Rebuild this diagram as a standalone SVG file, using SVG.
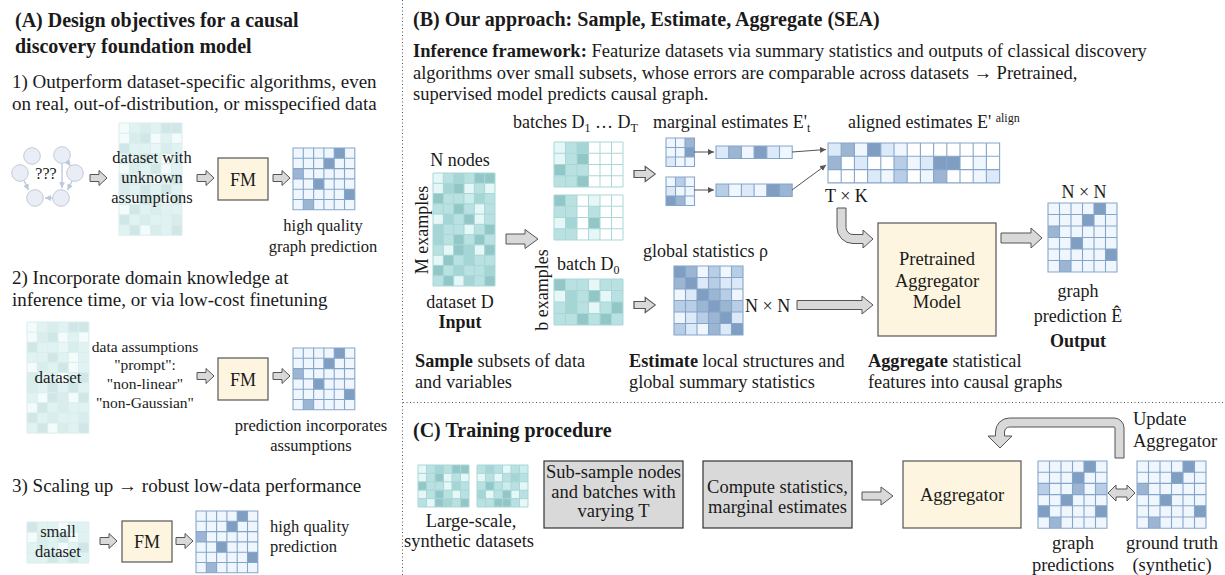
<svg xmlns="http://www.w3.org/2000/svg" xmlns:xlink="http://www.w3.org/1999/xlink" width="1225" height="575" viewBox="0 0 1225 575" font-family="Liberation Serif, DejaVu Serif, serif">
<style>
.t{font-family:Liberation Serif, Tinos, DejaVu Serif, serif;fill:#1a1a1a}
.ttl{font-size:20px;font-weight:bold}
.body{font-size:19px}
.lbl{font-size:16.5px}
.m{font-size:18px}
.cap{font-size:18.3px}
.c18{font-size:18.5px}
.inf{font-size:18.5px}
.mid{text-anchor:middle}
.bd{font-weight:bold}
.t0{fill:#e6f7f7}.t1{fill:#cdecec}.t2{fill:#b9e1e1}.t3{fill:#a5d5d5}.t4{fill:#93c7c7}.tw{fill:#ffffff}
.b0{fill:#ffffff}.b1{fill:#f0f6fd}.b2{fill:#dce9f8}.b3{fill:#b8cde6}.b4{fill:#9bb5d3}.b5{fill:#7f9ec2}
.tg{fill:none;stroke:#a9d7d7;stroke-width:1;vector-effect:non-scaling-stroke}
.bg{fill:none;stroke:#86a6c9;stroke-width:1.1;vector-effect:non-scaling-stroke}
.blk{fill:#d9d9d9;stroke:#555;stroke-width:1}
.box{fill:#fdf5df;stroke:#555;stroke-width:1.2}
.gbox{fill:#d9d9d9;stroke:#333;stroke-width:1.2}
.gc{fill:#e9eef6;stroke:#c3cad6;stroke-width:1}
.ge{stroke:#b9c8dc;stroke-width:1.3;fill:none}
.ln{stroke:#555;stroke-width:1;fill:none}
.div{stroke:#555;stroke-width:1;stroke-dasharray:1 2.5;fill:none}
</style>
<defs>
<rect id="c" width="10" height="10"/>
<path id="sa" class="blk" d="M0,-3.5H9V-7.5L17,0L9,7.5V3.5H0Z"/>
<marker id="ah" viewBox="0 0 8 8" refX="8" refY="4" markerWidth="6" markerHeight="6" orient="auto"><path d="M0,0L8,4L0,8Z" fill="#555"/></marker>
<marker id="ahl" viewBox="0 0 8 8" refX="8" refY="4" markerWidth="4.5" markerHeight="4.5" orient="auto"><path d="M0,0L8,4L0,8Z" fill="#b9c8dc"/></marker>
<g id="dsD">
<rect width="60" height="110" class="t2"/>
<use href="#c" x="0" y="0" class="t0"/><use href="#c" x="20" y="0" class="t3"/><use href="#c" x="40" y="0" class="t4"/><use href="#c" x="50" y="0" class="t4"/>
<use href="#c" x="0" y="10" class="t0"/><use href="#c" x="10" y="10" class="t3"/><use href="#c" x="20" y="10" class="t4"/><use href="#c" x="30" y="10" class="t0"/><use href="#c" x="50" y="10" class="t0"/>
<use href="#c" x="0" y="20" class="t4"/><use href="#c" x="30" y="20" class="t1"/><use href="#c" x="40" y="20" class="t3"/>
<use href="#c" x="20" y="30" class="t4"/><use href="#c" x="40" y="30" class="t0"/>
<use href="#c" x="0" y="40" class="t0"/><use href="#c" x="10" y="40" class="t3"/><use href="#c" x="30" y="40" class="t4"/><use href="#c" x="40" y="40" class="t0"/>
<use href="#c" x="0" y="50" class="t3"/><use href="#c" x="30" y="50" class="t0"/><use href="#c" x="50" y="50" class="t4"/>
<use href="#c" x="0" y="60" class="t3"/><use href="#c" x="20" y="60" class="t4"/><use href="#c" x="40" y="60" class="t4"/>
<use href="#c" x="10" y="70" class="t0"/><use href="#c" x="20" y="70" class="t4"/><use href="#c" x="30" y="70" class="t3"/><use href="#c" x="40" y="70" class="t0"/><use href="#c" x="50" y="70" class="t4"/>
<use href="#c" x="0" y="80" class="t0"/><use href="#c" x="10" y="80" class="t4"/><use href="#c" x="30" y="80" class="t3"/>
<use href="#c" x="0" y="90" class="t4"/><use href="#c" x="20" y="90" class="t3"/><use href="#c" x="50" y="90" class="t3"/>
<use href="#c" x="10" y="100" class="t4"/><use href="#c" x="20" y="100" class="t0"/><use href="#c" x="30" y="100" class="t3"/><use href="#c" x="50" y="100" class="t4"/>
<path class="tg" d="M0 0H60V110H0ZM10 0V110M20 0V110M30 0V110M40 0V110M50 0V110M0 10H60M0 20H60M0 30H60M0 40H60M0 50H60M0 60H60M0 70H60M0 80H60M0 90H60M0 100H60"/>
</g>
<g id="d0">
<rect width="60" height="40" class="t2"/>
<use href="#c" x="0" y="0" class="t4"/><use href="#c" x="30" y="0" class="t0"/>
<use href="#c" x="0" y="10" class="t0"/><use href="#c" x="10" y="10" class="t3"/><use href="#c" x="30" y="10" class="t4"/><use href="#c" x="40" y="10" class="t0"/>
<use href="#c" x="10" y="20" class="t3"/><use href="#c" x="30" y="20" class="t0"/><use href="#c" x="50" y="20" class="t4"/>
<use href="#c" x="20" y="30" class="t4"/><use href="#c" x="40" y="30" class="t4"/>
<path class="tg" d="M0 0H60V40H0ZM10 0V40M20 0V40M30 0V40M40 0V40M50 0V40M0 10H60M0 20H60M0 30H60"/>
</g>
<g id="gp">
<rect width="60" height="60" class="b1"/>
<use href="#c" x="40" y="0" class="b5"/><use href="#c" x="30" y="10" class="b5"/><use href="#c" x="0" y="20" class="b4"/><use href="#c" x="20" y="30" class="b5"/><use href="#c" x="50" y="40" class="b5"/><use href="#c" x="10" y="50" class="b4"/>
<path class="bg" d="M0 0H60V60H0ZM10 0V60M20 0V60M30 0V60M40 0V60M50 0V60M0 10H60M0 20H60M0 30H60M0 40H60M0 50H60"/>
</g>
</defs>
<rect width="1225" height="575" fill="#ffffff"/>

<g id="dividers">
<path class="div" d="M402.5 0V575"/>
<path class="div" d="M403 402.5H1225"/>
</g>

<!-- Panel A -->
<g id="panelA-text">
<text class="t ttl" x="15" y="27">(A) Design objectives for a causal</text>
<text class="t ttl" x="15" y="53">discovery foundation model</text>
<text class="t body" x="12" y="88">1) Outperform dataset-specific algorithms, even</text>
<text class="t body" x="12" y="110">on real, out-of-distribution, or misspecified data</text>
<text class="t body" x="12" y="284">2) Incorporate domain knowledge at</text>
<text class="t body" x="12" y="306">inference time, or via low-cost finetuning</text>
<text class="t body" x="12" y="492">3) Scaling up → robust low-data performance</text>
</g>
<g id="a1-unknown-graph">
<circle cx="32" cy="156" r="8.3" class="gc"/><circle cx="62" cy="155" r="8.3" class="gc"/>
<circle cx="20" cy="173" r="8.3" class="gc"/><circle cx="75" cy="173" r="8.3" class="gc"/>
<circle cx="35" cy="198" r="8.3" class="gc"/><circle cx="61" cy="198" r="8.3" class="gc"/>
<text class="t mid" x="46" y="179" font-size="16">???</text>
</g>
<g id="a1-dataset">
<use href="#dsD" transform="translate(119,123) scale(1.05,1.02)" opacity="0.42"/>
<text class="t lbl mid" x="152" y="163">dataset with</text>
<text class="t lbl mid" x="152" y="183">unknown</text>
<text class="t lbl mid" x="152" y="203">assumptions</text>
</g>
<g id="a1-fm"><rect x="218" y="158" width="50" height="42" class="box"/><text class="t m mid" x="243" y="186">FM</text></g>
<g id="a1-graph">
<use href="#gp" transform="translate(293,148) scale(1.03)"/>
<text class="t lbl mid" x="323" y="231">high quality</text>
<text class="t lbl mid" x="323" y="252">graph prediction</text>
</g>
<g id="a2-dataset">
<use href="#dsD" transform="translate(27,322) scale(1.03,1.01)" opacity="0.42"/>
<text class="t mid" x="58" y="383" font-size="17">dataset</text>
</g>
<g id="a2-prompt">
<text class="t mid" x="145" y="352" font-size="15.5">data assumptions</text>
<text class="t mid" x="145" y="370" font-size="15.5">"prompt":</text>
<text class="t mid" x="145" y="389" font-size="15.5">"non-linear"</text>
<text class="t mid" x="145" y="408" font-size="15.5">"non-Gaussian"</text>
</g>
<g id="a2-fm"><rect x="218" y="358" width="50" height="42" class="box"/><text class="t m mid" x="243" y="386">FM</text></g>
<g id="a2-graph">
<use href="#gp" transform="translate(293,348) scale(1.03)"/>
<text class="t lbl mid" x="311" y="431">prediction incorporates</text>
<text class="t lbl mid" x="311" y="451">assumptions</text>
</g>
<g id="a3-dataset">
<use href="#d0" transform="translate(27,522) scale(1.03,1.025)" opacity="0.42"/>
<text class="t lbl mid" x="58" y="537">small</text>
<text class="t lbl mid" x="58" y="557">dataset</text>
</g>
<g id="a3-fm"><rect x="122" y="521" width="50" height="41" class="box"/><text class="t m mid" x="147" y="548">FM</text></g>
<g id="a3-graph">
<use href="#gp" transform="translate(196,511) scale(1.03)"/>
<text class="t lbl" x="270" y="532">high quality</text>
<text class="t lbl" x="270" y="552">prediction</text>
</g>

<!-- Panel B -->
<g id="panelB-text">
<text class="t ttl" x="413" y="26">(B) Our approach: Sample, Estimate, Aggregate (SEA)</text>
<text class="t inf" x="413" y="57"><tspan font-weight="bold">Inference framework:</tspan> Featurize datasets via summary statistics and outputs of classical discovery</text>
<text class="t inf" x="413" y="79">algorithms over small subsets, whose errors are comparable across datasets → Pretrained,</text>
<text class="t inf" x="413" y="100">supervised model predicts causal graph.</text>
<text class="t cap" x="415" y="367"><tspan font-weight="bold">Sample</tspan> subsets of data</text>
<text class="t cap" x="415" y="388">and variables</text>
<text class="t cap" x="629" y="367"><tspan font-weight="bold">Estimate</tspan> local structures and</text>
<text class="t cap" x="629" y="388">global summary statistics</text>
<text class="t cap" x="868" y="367"><tspan font-weight="bold">Aggregate</tspan> statistical</text>
<text class="t cap" x="868" y="388">features into causal graphs</text>
</g>
<g id="b-dataset">
<text class="t m mid" x="460" y="166">N nodes</text>
<text class="t m mid" transform="translate(428,230) rotate(-90)">M examples</text>
<use href="#dsD" transform="translate(433,173) scale(1.033,1.027)"/>
<text class="t m mid" x="460" y="308">dataset D</text>
<text class="t m mid bd" x="460" y="328">Input</text>
</g>
<g id="b-batches">
<text class="t m" x="513" y="128">batches D<tspan dy="4" font-size="12">1</tspan><tspan dy="-4"> … D</tspan><tspan dy="4" font-size="12">T</tspan></text>
<g transform="translate(554,142) scale(1.15,1.125)">
<rect width="60" height="40" class="tw"/>
<use href="#c" x="0" y="0" class="t0"/><use href="#c" x="10" y="0" class="t2"/><use href="#c" x="20" y="0" class="t3"/>
<use href="#c" x="0" y="10" class="t0"/><use href="#c" x="10" y="10" class="t2"/><use href="#c" x="20" y="10" class="t4"/>
<use href="#c" x="0" y="20" class="t4"/><use href="#c" x="10" y="20" class="t2"/><use href="#c" x="20" y="20" class="t2"/>
<use href="#c" x="0" y="30" class="t2"/><use href="#c" x="10" y="30" class="t2"/><use href="#c" x="20" y="30" class="t4"/>
<path class="tg" d="M0 0H60V40H0ZM10 0V40M20 0V40M30 0V40M40 0V40M50 0V40M0 10H60M0 20H60M0 30H60"/>
</g>
<g transform="translate(554,195) scale(1.15,1.125)">
<rect width="60" height="40" class="tw"/>
<use href="#c" x="0" y="0" class="t4"/><use href="#c" x="10" y="0" class="t2"/><use href="#c" x="30" y="0" class="t0"/>
<use href="#c" x="0" y="10" class="t2"/><use href="#c" x="10" y="10" class="t2"/><use href="#c" x="30" y="10" class="t2"/>
<use href="#c" x="0" y="20" class="t0"/><use href="#c" x="10" y="20" class="t3"/><use href="#c" x="30" y="20" class="t4"/>
<use href="#c" x="0" y="30" class="t2"/><use href="#c" x="10" y="30" class="t2"/><use href="#c" x="30" y="30" class="t0"/>
<path class="tg" d="M0 0H60V40H0ZM10 0V40M20 0V40M30 0V40M40 0V40M50 0V40M0 10H60M0 20H60M0 30H60"/>
</g>
</g>
<g id="b-batch0">
<text class="t m" x="557" y="270">batch D<tspan dy="4" font-size="12">0</tspan></text>
<text class="t m mid" transform="translate(548,290) rotate(-90)">b examples</text>
<use href="#d0" transform="translate(554,279) scale(1.15,1.15)"/>
</g>
<g id="b-marginal">
<text class="t m" x="653" y="128">marginal estimates E'<tspan dy="4" font-size="12">t</tspan></text>
<g transform="translate(666,138) scale(0.95)">
<rect width="30" height="30" class="b1"/>
<use href="#c" x="20" y="0" class="b4"/><use href="#c" x="20" y="10" class="b5"/><use href="#c" x="0" y="20" class="b2"/>
<path class="bg" d="M0 0H30V30H0ZM10 0V30M20 0V30M0 10H30M0 20H30"/>
</g>
<g transform="translate(666,177) scale(0.95)">
<rect width="30" height="30" class="b1"/>
<use href="#c" x="10" y="0" class="b3"/><use href="#c" x="0" y="10" class="b2"/><use href="#c" x="0" y="20" class="b5"/><use href="#c" x="10" y="20" class="b4"/>
<path class="bg" d="M0 0H30V30H0ZM10 0V30M20 0V30M0 10H30M0 20H30"/>
</g>
<g transform="translate(716,146) scale(1.27,1.25)">
<use href="#c" x="0" y="0" class="b2"/><use href="#c" x="10" y="0" class="b4"/><use href="#c" x="20" y="0" class="b1"/><use href="#c" x="30" y="0" class="b5"/><use href="#c" x="40" y="0" class="b2"/><use href="#c" x="50" y="0" class="b1"/>
<path class="bg" d="M0 0H60V10H0ZM10 0V10M20 0V10M30 0V10M40 0V10M50 0V10"/>
</g>
<g transform="translate(716,184) scale(1.27,1.25)">
<use href="#c" x="0" y="0" class="b3"/><use href="#c" x="10" y="0" class="b1"/><use href="#c" x="20" y="0" class="b2"/><use href="#c" x="30" y="0" class="b1"/><use href="#c" x="40" y="0" class="b5"/><use href="#c" x="50" y="0" class="b4"/>
<path class="bg" d="M0 0H60V10H0ZM10 0V10M20 0V10M30 0V10M40 0V10M50 0V10"/>
</g>
</g>
<g id="b-aligned">
<text class="t m" x="848" y="128">aligned estimates E' <tspan dy="-6" font-size="12">align</tspan></text>
<g transform="translate(828,143) scale(1.32,1.33)">
<rect width="130" height="30" class="b0"/>
<use href="#c" x="0" y="0" class="b2"/><use href="#c" x="10" y="0" class="b4"/><use href="#c" x="20" y="0" class="b1"/><use href="#c" x="30" y="0" class="b5"/><use href="#c" x="40" y="0" class="b2"/><use href="#c" x="50" y="0" class="b1"/>
<use href="#c" x="0" y="10" class="b4"/><use href="#c" x="20" y="10" class="b2"/><use href="#c" x="50" y="10" class="b3"/><use href="#c" x="60" y="10" class="b1"/><use href="#c" x="70" y="10" class="b2"/><use href="#c" x="80" y="10" class="b5"/><use href="#c" x="90" y="10" class="b5"/><use href="#c" x="110" y="10" class="b1"/>
<use href="#c" x="30" y="20" class="b2"/><use href="#c" x="40" y="20" class="b1"/><use href="#c" x="50" y="20" class="b3"/><use href="#c" x="70" y="20" class="b1"/><use href="#c" x="80" y="20" class="b4"/><use href="#c" x="110" y="20" class="b1"/><use href="#c" x="120" y="20" class="b2"/>
<path class="bg" d="M0 0H130V30H0ZM10 0V30M20 0V30M30 0V30M40 0V30M50 0V30M60 0V30M70 0V30M80 0V30M90 0V30M100 0V30M110 0V30M120 0V30M0 10H130M0 20H130"/>
</g>
<text class="t m" x="825" y="202">T × K</text>
</g>
<g id="b-global">
<text class="t m" x="643" y="257">global statistics ρ</text>
<g transform="translate(674,266) scale(1.15)">
<use href="#c" x="0" y="0" class="b5"/><use href="#c" x="10" y="0" class="b4"/><use href="#c" x="20" y="0" class="b1"/><use href="#c" x="30" y="0" class="b3"/><use href="#c" x="40" y="0" class="b1"/><use href="#c" x="50" y="0" class="b3"/>
<use href="#c" x="0" y="10" class="b4"/><use href="#c" x="10" y="10" class="b5"/><use href="#c" x="20" y="10" class="b2"/><use href="#c" x="30" y="10" class="b3"/><use href="#c" x="40" y="10" class="b2"/><use href="#c" x="50" y="10" class="b2"/>
<use href="#c" x="0" y="20" class="b1"/><use href="#c" x="10" y="20" class="b2"/><use href="#c" x="20" y="20" class="b5"/><use href="#c" x="30" y="20" class="b4"/><use href="#c" x="40" y="20" class="b3"/><use href="#c" x="50" y="20" class="b1"/>
<use href="#c" x="0" y="30" class="b3"/><use href="#c" x="10" y="30" class="b3"/><use href="#c" x="20" y="30" class="b4"/><use href="#c" x="30" y="30" class="b5"/><use href="#c" x="40" y="30" class="b4"/><use href="#c" x="50" y="30" class="b3"/>
<use href="#c" x="0" y="40" class="b1"/><use href="#c" x="10" y="40" class="b2"/><use href="#c" x="20" y="40" class="b3"/><use href="#c" x="30" y="40" class="b4"/><use href="#c" x="40" y="40" class="b5"/><use href="#c" x="50" y="40" class="b2"/>
<use href="#c" x="0" y="50" class="b3"/><use href="#c" x="10" y="50" class="b2"/><use href="#c" x="20" y="50" class="b1"/><use href="#c" x="30" y="50" class="b4"/><use href="#c" x="40" y="50" class="b2"/><use href="#c" x="50" y="50" class="b5"/>
<path class="bg" d="M0 0H60V60H0ZM10 0V60M20 0V60M30 0V60M40 0V60M50 0V60M0 10H60M0 20H60M0 30H60M0 40H60M0 50H60"/>
</g>
<text class="t m" x="745" y="312">N × N</text>
</g>
<g id="b-aggregator">
<rect x="878" y="223" width="118" height="113" class="box"/>
<text class="t c18 mid" x="937" y="265">Pretrained</text>
<text class="t c18 mid" x="937" y="287">Aggregator</text>
<text class="t c18 mid" x="937" y="308">Model</text>
</g>
<g id="b-output">
<text class="t m mid" x="1084" y="198">N × N</text>
<use href="#gp" transform="translate(1048,203) scale(1.15)"/>
<text class="t m mid" x="1078" y="297">graph</text>
<text class="t m mid" x="1078" y="322">prediction Ê</text>
<text class="t m mid bd" x="1078" y="347">Output</text>
</g>

<!-- Panel C -->
<g id="panelC-text">
<text class="t ttl" x="413" y="437">(C) Training procedure</text>
</g>
<g id="c-datasets">
<g transform="translate(418,465) scale(0.85,0.84)">
<rect width="60" height="50" class="t2"/>
<use href="#c" x="0" y="0" class="t0"/><use href="#c" x="20" y="0" class="t3"/><use href="#c" x="40" y="0" class="t4"/><use href="#c" x="50" y="0" class="t4"/>
<use href="#c" x="0" y="10" class="t0"/><use href="#c" x="20" y="10" class="t4"/><use href="#c" x="30" y="10" class="t0"/><use href="#c" x="50" y="10" class="t0"/>
<use href="#c" x="0" y="20" class="t4"/><use href="#c" x="30" y="20" class="t0"/><use href="#c" x="40" y="20" class="t3"/>
<use href="#c" x="0" y="30" class="t0"/><use href="#c" x="20" y="30" class="t4"/><use href="#c" x="40" y="30" class="t0"/>
<use href="#c" x="10" y="40" class="t0"/><use href="#c" x="20" y="40" class="t4"/><use href="#c" x="30" y="40" class="t3"/><use href="#c" x="50" y="40" class="t4"/>
<path class="tg" d="M0 0H60V50H0ZM10 0V50M20 0V50M30 0V50M40 0V50M50 0V50M0 10H60M0 20H60M0 30H60M0 40H60"/>
</g>
<g transform="translate(477,465) scale(0.85,0.84)">
<rect width="60" height="50" class="t2"/>
<use href="#c" x="10" y="0" class="t3"/><use href="#c" x="30" y="0" class="t0"/><use href="#c" x="50" y="0" class="t1"/>
<use href="#c" x="0" y="10" class="t0"/><use href="#c" x="20" y="10" class="t0"/><use href="#c" x="40" y="10" class="t3"/>
<use href="#c" x="10" y="20" class="t4"/><use href="#c" x="30" y="20" class="t1"/><use href="#c" x="50" y="20" class="t0"/>
<use href="#c" x="0" y="30" class="t3"/><use href="#c" x="10" y="30" class="t0"/><use href="#c" x="30" y="30" class="t4"/><use href="#c" x="40" y="30" class="t0"/>
<use href="#c" x="20" y="40" class="t4"/><use href="#c" x="30" y="40" class="t4"/><use href="#c" x="50" y="40" class="t0"/>
<path class="tg" d="M0 0H60V50H0ZM10 0V50M20 0V50M30 0V50M40 0V50M50 0V50M0 10H60M0 20H60M0 30H60M0 40H60"/>
</g>
<text class="t c18 mid" x="471" y="527">Large-scale,</text>
<text class="t c18 mid" x="469" y="547">synthetic datasets</text>
</g>
<g id="c-subsample">
<rect x="544" y="461" width="139" height="67" class="gbox"/>
<text class="t c18 mid" x="613.5" y="478">Sub-sample nodes</text>
<text class="t c18 mid" x="613.5" y="498">and batches with</text>
<text class="t c18 mid" x="613.5" y="517">varying T</text>
</g>
<g id="c-compute">
<rect x="703" y="461" width="149" height="67" class="gbox"/>
<text class="t c18 mid" x="777.5" y="493">Compute statistics,</text>
<text class="t c18 mid" x="777.5" y="513">marginal estimates</text>
</g>
<g id="c-aggregator">
<rect x="903" y="461" width="118" height="67" class="box"/>
<text class="t c18 mid" x="962" y="501">Aggregator</text>
</g>
<g id="c-predictions">
<g transform="translate(1038,461) scale(1.15,1.12)">
<rect width="60" height="60" class="b1"/>
<use href="#c" x="40" y="0" class="b5"/><use href="#c" x="30" y="10" class="b5"/><use href="#c" x="0" y="20" class="b3"/><use href="#c" x="30" y="20" class="b4"/><use href="#c" x="50" y="20" class="b3"/><use href="#c" x="20" y="30" class="b5"/><use href="#c" x="0" y="40" class="b5"/><use href="#c" x="50" y="40" class="b5"/><use href="#c" x="10" y="50" class="b4"/>
<path class="bg" d="M0 0H60V60H0ZM10 0V60M20 0V60M30 0V60M40 0V60M50 0V60M0 10H60M0 20H60M0 30H60M0 40H60M0 50H60"/>
</g>
<text class="t c18 mid" x="1073" y="549">graph</text>
<text class="t c18 mid" x="1073" y="571">predictions</text>
</g>
<g id="c-groundtruth">
<use href="#gp" transform="translate(1137,461) scale(1.15,1.12)"/>
<text class="t c18 mid" x="1172" y="549">ground truth</text>
<text class="t c18 mid" x="1172" y="571">(synthetic)</text>
</g>
<g id="c-update-label">
<text class="t c18" x="1133" y="425">Update</text>
<text class="t c18" x="1133" y="447">Aggregator</text>
</g>

<g id="connectors">
<path class="ge" d="M62 163.5V188" marker-end="url(#ahl)"/>
<path class="ge" d="M67 161L70.5 166" marker-end="url(#ahl)"/>
<path class="ge" d="M72 181L67.5 190" marker-end="url(#ahl)"/>
<path class="ge" d="M52.5 198H45" marker-end="url(#ahl)"/>
<path class="ge" d="M24 180.5L28.5 190" marker-end="url(#ahl)"/>
<use href="#sa" x="90" y="178"/>
<use href="#sa" x="197" y="178"/>
<use href="#sa" x="273" y="178"/>
<use href="#sa" x="197" y="376"/>
<use href="#sa" x="273" y="376"/>
<use href="#sa" x="100" y="541"/>
<use href="#sa" x="176" y="541"/>
<path class="blk" d="M506 234H525V229.5L538 239L525 248.5V244H506Z"/>
<use href="#sa" transform="translate(634,174) scale(1.25,1)"/>
<use href="#sa" transform="translate(634,305) scale(1.25,1)"/>
<path class="ln" d="M694 152H714" marker-end="url(#ah)"/>
<path class="ln" d="M694 190H714" marker-end="url(#ah)"/>
<path class="ln" d="M792 152L826 149.5" marker-end="url(#ah)"/>
<path class="ln" d="M792 190L826 165" marker-end="url(#ah)"/>
<path class="blk" d="M837 208V227.5A16 16 0 0 0 853 243.5H863V248L873 239L863 230V234.5H853A7 7 0 0 1 846 227.5V208Z"/>
<path class="blk" d="M797 300.5H862V296L873 305L862 314V309.5H797Z"/>
<path class="blk" d="M1001 233H1031V228L1042 238L1031 248V243H1001Z"/>
<path class="blk" d="M862 492H881V487L893 496L881 505V500H862Z"/>
<path class="blk" d="M1108 493L1116 485V489H1127V485L1135 493L1127 501V497H1116V501Z"/>
<path class="blk" d="M1124 458V428A10 10 0 0 0 1114 418H1009.5A14 14 0 0 0 995.5 432V436H988L1000 448L1012 436H1004.5V432A5 5 0 0 1 1009.5 427H1114A1 1 0 0 1 1115 428V458Z"/>
</g>
</svg>
